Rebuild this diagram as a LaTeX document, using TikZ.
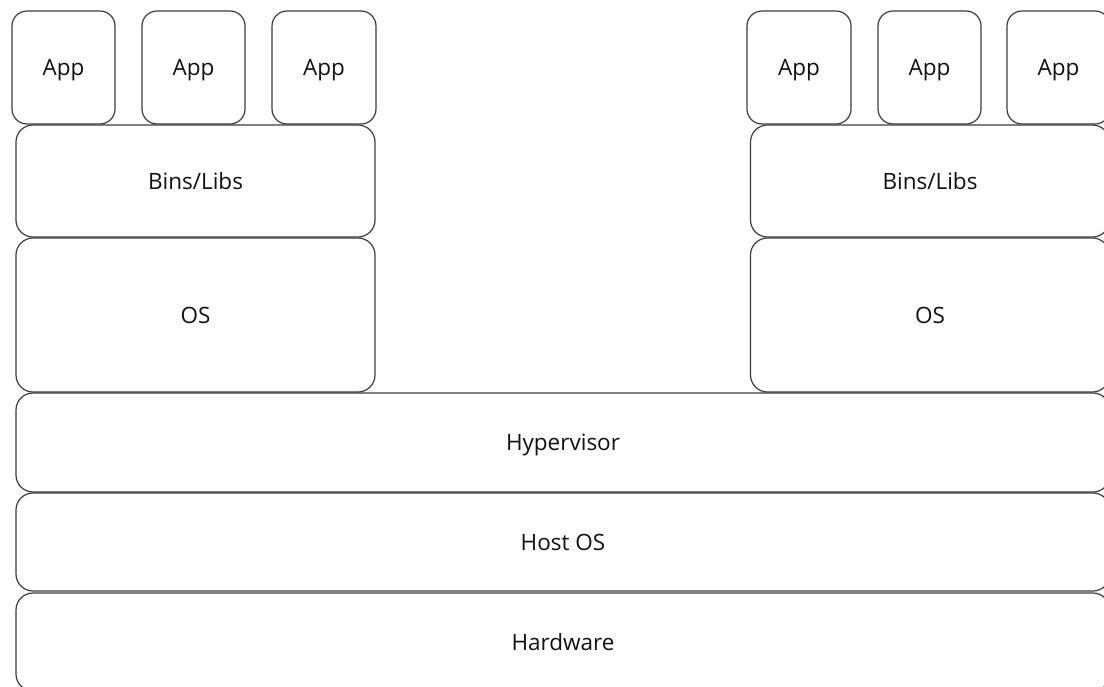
\documentclass[tikz,border=0pt]{standalone}
\usepackage{fontspec}
\setmainfont{Open Sans}
\definecolor{edge}{HTML}{3C3C3C}
\definecolor{ink}{HTML}{111111}
\begin{document}
\begin{tikzpicture}[x=1pt,y=-1pt,
  layer/.style={draw=edge, line width=1.2pt, rounded corners=17pt, fill=white,
    inner sep=0pt, outer sep=0pt, text=ink, text height=16pt, text depth=0pt,
    font=\fontsize{22.5}{27}\selectfont},
  appbox/.style={layer, rounded corners=15pt, minimum height=113pt}]
\useasboundingbox (0,0) rectangle (1104,686);
\clip (0,0) rectangle (1104,686);

% host stack along the bottom
\node[layer, minimum width=1094pt, minimum height=99pt] (hyp)  at (563,442.5) {Hypervisor};
\node[layer, minimum width=1094pt, minimum height=98pt] (host) at (563,542)   {Host OS};
\node[layer, minimum width=1094pt, minimum height=98pt] (hw)   at (563,642)   {Hardware};

% first virtual machine
\node[layer, minimum width=359pt, minimum height=154pt] (osL)   at (195.5,315) {OS};
\node[layer, minimum width=359pt, minimum height=112pt] (binsL) at (195.5,181) {Bins/Libs};
\node[appbox, minimum width=103pt] (appA) at (63.5,67.5)  {App};
\node[appbox, minimum width=103pt] (appB) at (193.5,67.5) {App};
\node[appbox, minimum width=104pt] (appC) at (324,67.5)   {App};

% second virtual machine
\node[layer, minimum width=359pt, minimum height=154pt] (osR)   at (930,315) {OS};
\node[layer, minimum width=359pt, minimum height=112pt] (binsR) at (930,181) {Bins/Libs};
\node[appbox, minimum width=104pt] (appD) at (799,67.5)    {App};
\node[appbox, minimum width=103pt] (appE) at (929.5,67.5)  {App};
\node[appbox, minimum width=103pt] (appF) at (1058.5,67.5) {App};
\end{tikzpicture}
\end{document}
